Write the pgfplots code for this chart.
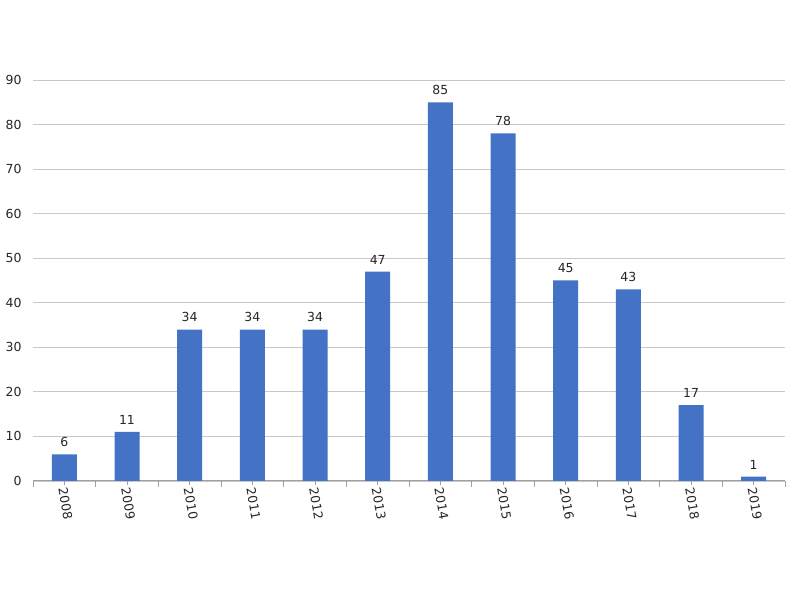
\documentclass[border=0pt]{standalone}
\usepackage{fontspec}
\setmainfont{DejaVu Sans}
\usepackage{pgfplots}
\pgfplotsset{compat=1.18}
\definecolor{barblue}{HTML}{4472C4}
\definecolor{gridgray}{HTML}{C8C8C8}
\definecolor{axgray}{HTML}{A0A0A0}
\definecolor{txt}{HTML}{262626}
\begin{document}
\begin{tikzpicture}[x=1bp,y=1bp]
\path[use as bounding box, fill=white] (0,0) rectangle (800,600);
\begin{axis}[
  at={(33bp,119bp)}, anchor=south west,
  scale only axis, width=752bp, height=401bp,
  xmin=-0.5, xmax=11.5, ymin=0, ymax=90,
  ytick={0,10,...,90},
  xtick={0,...,11},
  xticklabels={2008,2009,2010,2011,2012,2013,2014,2015,2016,2017,2018,2019},
  minor xtick={-0.5,0.5,...,11.5},
  axis x line*=bottom, axis y line*=left,
  x axis line style={axgray, line width=1bp, -},
  y axis line style={draw=none},
  major y tick style={draw=none},
  ymajorgrids, grid style={gridgray, line width=0.8bp},
  major x tick style={axgray, line width=1bp},
  minor x tick style={axgray, line width=1bp},
  xtick align=outside,
  major tick length=4bp, minor tick length=6bp,
  tick label style={font=\fontsize{12.5}{14}\selectfont, text=txt},
  /pgf/number format/assume math mode=true,
  yticklabel style={anchor=east, xshift=-8bp},
  xticklabel style={rotate=-80, anchor=west, xshift=-1bp, yshift=-2bp},
  ybar, bar width=25bp,
  nodes near coords,
  every node near coord/.append style={font=\fontsize{12.5}{14}\selectfont, text=txt, yshift=4bp},
]
\addplot[fill=barblue, draw=none] coordinates {
  (0,6) (1,11) (2,34) (3,34) (4,34) (5,47) (6,85) (7,78) (8,45) (9,43) (10,17) (11,1)
};
\end{axis}
\end{tikzpicture}
\end{document}
